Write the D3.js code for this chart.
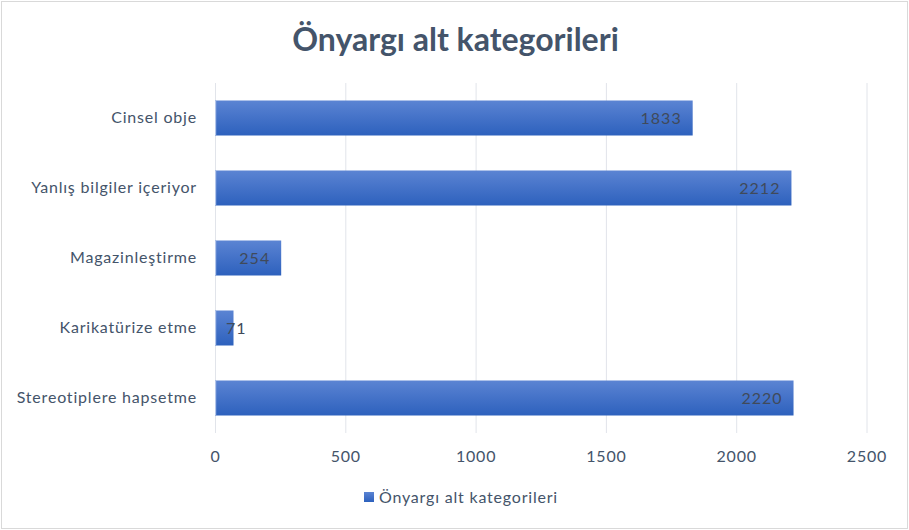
<!DOCTYPE html>
<html>
<head>
<meta charset="utf-8">
<script src="https://cdn.jsdelivr.net/npm/d3@7"></script>
<style>
  body { margin: 0; background: #fff; }
  text { font-family: Lato, "Open Sans", sans-serif; }
</style>
</head>
<body>
<div id="chart"></div>
<script>
// data
var categories = ["Cinsel obje", "Yanlış bilgiler içeriyor", "Magazinleştirme", "Karikatürize etme", "Stereotiplere hapsetme"];
var values = [1833, 2212, 254, 71, 2220];
var xTicks = [0, 500, 1000, 1500, 2000, 2500];
var seriesName = "Önyargı alt kategorileri";
var chartTitle = "Önyargı alt kategorileri";

var svgWidth = 909;
var svgHeight = 530;

var margin = { top: 83, right: 42, bottom: 97, left: 215 };
var chartWidth = svgWidth - margin.left - margin.right;
var chartHeight = svgHeight - margin.top - margin.bottom;

var svg = d3.select("#chart")
  .append("svg")
  .attr("width", svgWidth)
  .attr("height", svgHeight);

// outer border
svg.append("rect")
  .attr("x", 1.5).attr("y", 1.5)
  .attr("width", svgWidth - 3).attr("height", svgHeight - 3)
  .attr("fill", "#fff")
  .attr("stroke", "#d9d9d9")
  .attr("stroke-width", 1);

var defs = svg.append("defs");
var grad = defs.append("linearGradient")
  .attr("id", "barGrad")
  .attr("x1", 0).attr("y1", 0).attr("x2", 0).attr("y2", 1);
grad.append("stop").attr("offset", "0%").attr("stop-color", "#5b84d3");
grad.append("stop").attr("offset", "50%").attr("stop-color", "#4472c8");
grad.append("stop").attr("offset", "100%").attr("stop-color", "#2d61bd");

var chartGroup = svg.append("g")
  .attr("transform", `translate(${margin.left}, ${margin.top})`);

var xScale = d3.scaleLinear()
  .domain([0, 2500])
  .range([0, chartWidth - 0.5]);

var yScale = d3.scaleBand()
  .domain(categories)
  .range([0, chartHeight])
  .paddingInner(0.5)
  .paddingOuter(0.25);

// gridlines
chartGroup.append("g")
  .selectAll("line")
  .data(xTicks)
  .enter()
  .append("line")
  .attr("x1", d => xScale(d) + 0.5)
  .attr("x2", d => xScale(d) + 0.5)
  .attr("y1", 0)
  .attr("y2", chartHeight)
  .attr("stroke", "#e1e4ea")
  .attr("stroke-width", 1);

// x axis labels
var bottomAxis = d3.axisBottom(xScale).tickValues(xTicks).tickFormat(d3.format("d")).tickSize(0).tickPadding(18);
var xAxisG = chartGroup.append("g")
  .attr("transform", `translate(0, ${chartHeight})`)
  .call(bottomAxis);
xAxisG.select(".domain").remove();
xAxisG.selectAll("text")
  .attr("fill", "#44546a")
  .style("font-size", "16px")
  .style("letter-spacing", "0.8px")
  .style("font-family", "Lato, sans-serif");

// y axis labels
var leftAxis = d3.axisLeft(yScale).tickSize(0).tickPadding(18);
var yAxisG = chartGroup.append("g").call(leftAxis);
yAxisG.select(".domain").remove();
yAxisG.selectAll("text")
  .attr("fill", "#44546a")
  .style("font-size", "16px")
  .style("letter-spacing", "0.8px")
  .style("font-family", "Lato, sans-serif");

// bars
var data = categories.map((c, i) => ({ cat: c, value: values[i] }));

chartGroup.selectAll(".bar")
  .data(data)
  .enter()
  .append("rect")
  .attr("class", "bar")
  .attr("x", xScale(0))
  .attr("y", d => yScale(d.cat))
  .attr("width", d => xScale(d.value) - xScale(0))
  .attr("height", yScale.bandwidth())
  .attr("fill", "url(#barGrad)");

// light line at bar start
chartGroup.selectAll(".barEdge")
  .data(data)
  .enter()
  .append("rect")
  .attr("class", "barEdge")
  .attr("x", xScale(0))
  .attr("y", d => yScale(d.cat))
  .attr("width", 1.2)
  .attr("height", yScale.bandwidth())
  .attr("fill", "#b4c6ea");

// value labels (inside end)
var labels = chartGroup.selectAll(".val")
  .data(data)
  .enter()
  .append("text")
  .attr("class", "val")
  .attr("y", d => yScale(d.cat) + yScale.bandwidth() / 2)
  .attr("dy", "0.36em")
  .attr("fill", "#404a5a")
  .style("font-size", "16px")
  .style("letter-spacing", "1px")
  .text(d => d.value);

labels.each(function(d) {
  var w = this.getComputedTextLength();
  var x = xScale(d.value) - 11 - w;
  if (x < 11) x = 11;
  d3.select(this).attr("x", x);
});

// title
svg.append("text")
  .attr("x", svgWidth / 2 + 1)
  .attr("y", 51)
  .attr("text-anchor", "middle")
  .attr("fill", "#44546a")
  .style("font-size", "32px")
  .style("font-weight", "bold")
  .text(chartTitle);

// legend
var legend = svg.append("g").attr("transform", "translate(364, 497)");
legend.append("rect")
  .attr("x", 0).attr("y", -5)
  .attr("width", 10).attr("height", 10)
  .attr("fill", "url(#barGrad)");
legend.append("text")
  .attr("x", 15)
  .attr("y", 0)
  .attr("dy", "0.36em")
  .attr("fill", "#44546a")
  .style("font-size", "16px")
  .style("letter-spacing", "0.8px")
  .text(seriesName);
</script>
</body>
</html>
